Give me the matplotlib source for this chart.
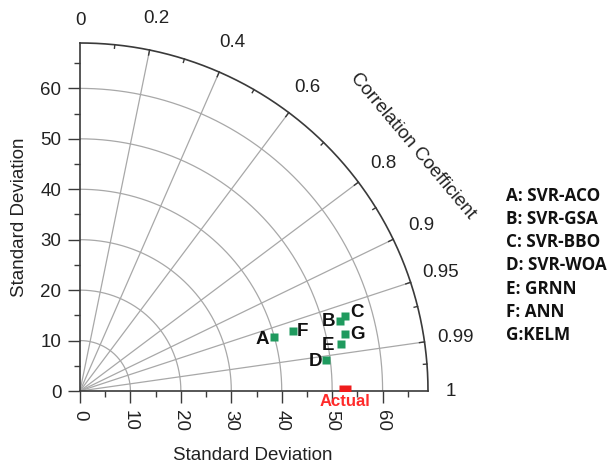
import numpy as np
import matplotlib
matplotlib.use('Agg')
import matplotlib.pyplot as plt

# ---- data ----
models = ['A', 'B', 'C', 'D', 'E', 'F', 'G']
model_names = ['SVR-ACO', 'SVR-GSA', 'SVR-BBO', 'SVR-WOA', 'GRNN', 'ANN', 'KELM']
std_dev = [39.85, 53.36, 54.67, 49.19, 52.63, 43.82, 53.78]
corr = [0.9636, 0.9652, 0.9621, 0.9921, 0.9843, 0.963, 0.978]
ref_std = 52.6
ref_corr = 1.0
ref_label = 'Actual'
legend_lines = ['A: SVR-ACO', 'B: SVR-GSA', 'C: SVR-BBO', 'D: SVR-WOA',
                'E: GRNN', 'F: ANN', 'G:KELM']
std_major = [0, 10, 20, 30, 40, 50, 60]
std_minor = [5, 15, 25, 35, 45, 55, 65]
std_grid = [10, 20, 30, 40, 50, 60]
corr_major = [0.2, 0.4, 0.6, 0.8, 0.9, 0.95, 0.99]
corr_minor = [0.1, 0.3, 0.5, 0.7, 0.85, 0.97, 0.997]
corr_ticklabels = [(0.0, '0'), (0.2, '0.2'), (0.4, '0.4'), (0.6, '0.6'), (0.8, '0.8'),
                   (0.9, '0.9'), (0.95, '0.95'), (0.99, '0.99'), (1.0, '1')]
rmax = 69

# label offsets (pixels) for point letters
label_offsets = {'A': (-11, -2), 'B': (-11, -1), 'C': (12, 3), 'D': (-11, -2),
                 'E': (-13, -1), 'F': (10, 0), 'G': (12, 0)}

plt.rcParams['font.family'] = ['Liberation Sans', 'DejaVu Sans']

fig = plt.figure(figsize=(6.14, 4.68), dpi=100)
ax = fig.add_axes([80 / 614, 77 / 468, 348 / 614, 348 / 468])
ax.set_xlim(0, rmax)
ax.set_ylim(0, rmax)
for s in ['top', 'right']:
    ax.spines[s].set_visible(False)
for s in ['left', 'bottom']:
    ax.spines[s].set_color('#3a3a3a')
    ax.spines[s].set_linewidth(1.2)

ax.set_xticks(std_major)
ax.set_xticks(std_minor, minor=True)
ax.set_yticks(std_major)
ax.set_yticks(std_minor, minor=True)
ax.set_xticklabels([str(v) for v in std_major], rotation=-90)
ax.set_yticklabels([str(v) for v in std_major])
ax.tick_params(which='major', direction='out', length=8.5, width=1.0,
               color='#3a3a3a', labelsize=13.5, labelcolor='#222222', pad=5)
ax.tick_params(which='minor', direction='out', length=4, width=1.0, color='#3a3a3a')

grid_col = '#a8a8a8'
th = np.linspace(0, np.pi / 2, 300)
for s in std_grid:
    ax.plot(s * np.cos(th), s * np.sin(th), color=grid_col, lw=0.9, zorder=1)
for c in corr_major:
    a = np.arccos(c)
    ax.plot([0, rmax * np.cos(a)], [0, rmax * np.sin(a)], color=grid_col, lw=0.9, zorder=1)

# outer arc
ax.plot(rmax * np.cos(th), rmax * np.sin(th), color='#3a3a3a', lw=1.2, clip_on=False, zorder=3)
for c in corr_major:
    a = np.arccos(c)
    ax.plot([(rmax - 1.0) * np.cos(a), rmax * np.cos(a)],
            [(rmax - 1.0) * np.sin(a), rmax * np.sin(a)], color='#3a3a3a', lw=1.0, clip_on=False)
for c in corr_minor:
    a = np.arccos(c)
    ax.plot([(rmax - 0.7) * np.cos(a), rmax * np.cos(a)],
            [(rmax - 0.7) * np.sin(a), rmax * np.sin(a)], color='#3a3a3a', lw=1.0, clip_on=False)
for c, lab in corr_ticklabels:
    a = np.arccos(c)
    r = 73.5 if len(lab) == 1 else 75.3
    ax.text(r * np.cos(a), r * np.sin(a), lab, ha='center', va='center',
            fontsize=13.5, color='#222222', clip_on=False)

a_t = np.deg2rad(36.3)
ax.text(82 * np.cos(a_t), 82 * np.sin(a_t), 'Correlation Coefficient', rotation=-50,
        ha='center', va='center', rotation_mode='anchor', fontsize=13.5, color='#222222')

# model points
for m, s, c in zip(models, std_dev, corr):
    a = np.arccos(c)
    x, y = s * np.cos(a), s * np.sin(a)
    ax.plot(x, y, 's', color='#1f9a5e', ms=5.2, mec='none', zorder=6)
    ax.annotate(m, (x, y), xytext=label_offsets[m], textcoords='offset pixels',
                ha='center', va='center', fontsize=13.5, fontweight='bold', color='#111111')

# reference point
ra = np.arccos(ref_corr)
ax.plot(ref_std * np.cos(ra), ref_std * np.sin(ra), 's', color='#ee1c1c', ms=8.5,
        mec='none', zorder=6, clip_on=True)
ax.annotate(ref_label, (ref_std * np.cos(ra), ref_std * np.sin(ra)), xytext=(0, -10),
            textcoords='offset pixels', ha='center', va='center', fontsize=12,
            fontweight='bold', color='#ff2a2a', annotation_clip=False)

fig.text(253 / 614, 1 - 456 / 468, 'Standard Deviation', ha='center', va='center',
         fontsize=13.5, color='#222222')
fig.text(20 / 614, 1 - 217 / 468, 'Standard Deviation', ha='center', va='center',
         rotation=90, fontsize=13.5, color='#222222')

leg_y = [196, 219, 242, 265.5, 289, 312, 335]
for txt, yy in zip(legend_lines, leg_y):
    fig.text(506 / 614, 1 - yy / 468, txt, ha='left', va='center', fontsize=12.3,
             fontweight='bold', color='#111111', family=['Open Sans', 'DejaVu Sans'])

fig.savefig('out.png', dpi=100)
